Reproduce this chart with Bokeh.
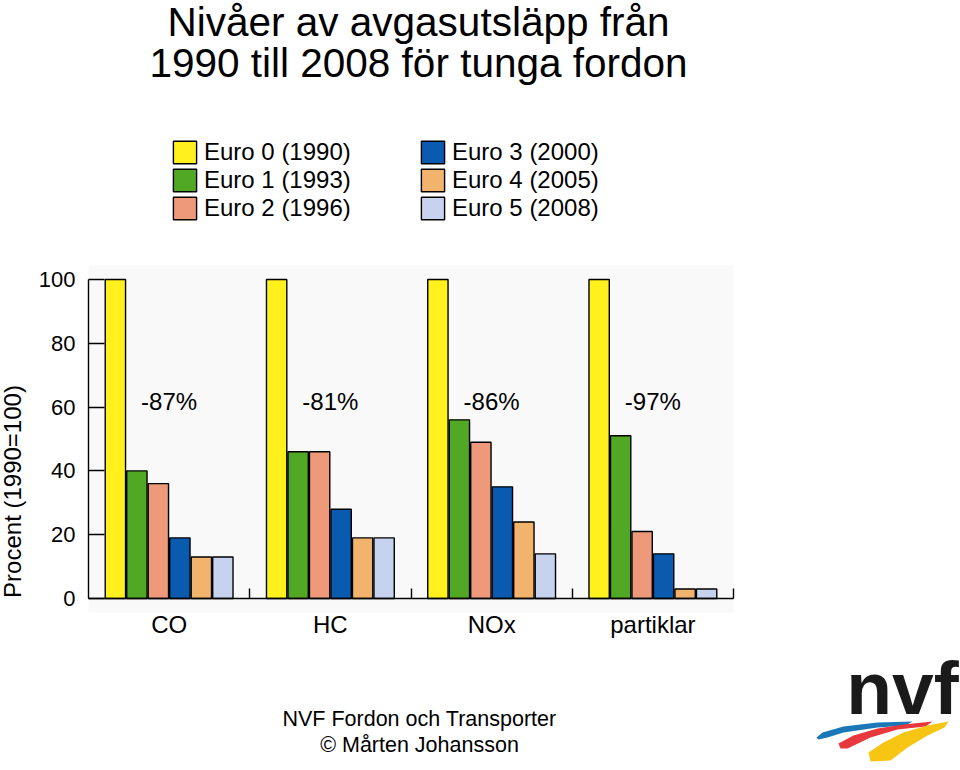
import math
from bokeh.plotting import figure
from bokeh.models import (ColumnDataSource, Range1d, FixedTicker, Label, Legend,
                          LegendItem, PolyAnnotation, BoxAnnotation)
from bokeh.core.properties import value
from bokeh.transform import dodge
from bokeh.embed import file_html
from bokeh.resources import INLINE

# ---------------- data ----------------
categories = ["CO", "HC", "NOx", "partiklar"]
euro0 = [100, 100, 100, 100]
euro1 = [40, 46, 56, 51]
euro2 = [36, 46, 49, 21]
euro3 = [19, 28, 35, 14]
euro4 = [13, 19, 24, 3]
euro5 = [13, 19, 14, 3]
series_names = ["Euro 0 (1990)", "Euro 1 (1993)", "Euro 2 (1996)",
                "Euro 3 (2000)", "Euro 4 (2005)", "Euro 5 (2008)"]
reductions = ["-87%", "-81%", "-86%", "-97%"]
y_ticks = [0, 20, 40, 60, 80, 100]

title_lines = ["Nivåer av avgasutsläpp från", "1990 till 2008 för tunga fordon"]
footer_lines = ["NVF Fordon och Transporter", "© Mårten Johansson"]
y_label = "Procent (1990=100)"

colors = ["#FFF01E", "#50A824", "#EE9A7A", "#0A5BB0", "#F2B36C", "#C6D2EE"]
FONT = "Liberation Sans"

# ---------------- geometry (canvas == frame) ----------------
W, H = 960, 770
X0, XPX = 88, 161.25      # pixel of x=0, pixels per group
Y0, YPX = 598, 3.19       # pixel of y=0, pixels per percent

x_range = Range1d(-X0 / XPX, (W - X0) / XPX)
y_range = Range1d(-(H - Y0) / YPX, Y0 / YPX)

p = figure(width=W, height=H, output_backend="svg", toolbar_location=None,
           x_range=x_range, y_range=y_range,
           min_border_left=0, min_border_right=0, min_border_top=0,
           min_border_bottom=0, outline_line_color=None,
           background_fill_color="white", border_fill_color="white")
p.grid.visible = False

n = len(categories)
# light plot-area background
p.add_layout(BoxAnnotation(left=0, right=n, bottom=-14 / YPX, top=(Y0 - 265) / YPX,
                           fill_color="#f9f9f9", fill_alpha=1, line_color=None,
                           level="underlay"))

centers = [i + 0.5 for i in range(n)]
src = ColumnDataSource(dict(x=centers, cat=categories, e0=euro0, e1=euro1, e2=euro2,
                            e3=euro3, e4=euro4, e5=euro5))
series_cols = ["e0", "e1", "e2", "e3", "e4", "e5"]
step = 0.1333
renderers = []
for k, col in enumerate(series_cols):
    off = (k - 2.5) * step
    r = p.vbar(x=dodge("x", off, range=p.x_range), top=col, width=0.126, source=src,
               fill_color=colors[k], line_color="black", line_width=1.4)
    renderers.append(r)

# reduction labels
rsrc = ColumnDataSource(dict(x=centers, y=[61.8] * n, t=reductions))
p.text(x="x", y="y", text="t", source=rsrc, text_align="center",
       text_baseline="middle", text_font=value(FONT), text_font_size="24px",
       text_color="black")

# axes, drawn at fixed data locations
xa = p.xaxis[0]
xa.fixed_location = 0
xa.bounds = (0, n)
xa.ticker = FixedTicker(ticks=centers, minor_ticks=[i + 1 for i in range(n)])
xa.major_label_overrides = {c: nm for c, nm in zip(centers, categories)}
xa.major_tick_in = 0
xa.major_tick_out = 0
xa.minor_tick_in = 10
xa.minor_tick_out = 0
xa.minor_tick_line_color = "black"
xa.minor_tick_line_width = 1.4
xa.axis_line_width = 1.4
xa.axis_line_color = "black"
xa.major_label_text_font = FONT
xa.major_label_text_font_size = "24px"
xa.major_label_text_color = "black"
xa.major_label_standoff = 12

ya = p.yaxis[0]
ya.fixed_location = 0
ya.ticker = FixedTicker(ticks=y_ticks)
ya.bounds = (0, 100)
ya.major_tick_in = 16
ya.major_tick_out = 0
ya.minor_tick_line_color = None
ya.major_tick_line_width = 1.4
ya.axis_line_width = 1.4
ya.axis_line_color = "black"
ya.major_tick_line_color = "black"
ya.major_label_text_font = FONT
ya.major_label_text_font_size = "22px"
ya.major_label_text_color = "black"
ya.major_label_standoff = 13


def sxy(X, Y):
    # image pixel -> screen units (origin bottom-left of canvas)
    return X, H - Y


# legends
for idx, (xs, ys) in enumerate([(170, 222), (418, 222)]):
    items = [LegendItem(label=series_names[3 * idx + j], renderers=[renderers[3 * idx + j]])
             for j in range(3)]
    lx, ly = sxy(xs, ys)
    leg = Legend(items=items, location=(lx, ly), orientation="vertical",
                 glyph_width=29, glyph_height=28, label_height=28, spacing=0,
                 padding=0, margin=0, label_standoff=5,
                 label_text_font=FONT, label_text_font_size="24px",
                 label_text_color="black", label_text_baseline="middle",
                 background_fill_alpha=0, border_line_color=None)
    p.add_layout(leg, "center")

# title
for line, by in zip(title_lines, [21, 62]):
    lx, ly = sxy(418, by)
    p.add_layout(Label(x=lx, y=ly, x_units="screen", y_units="screen", text=line,
                       text_align="center", text_baseline="alphabetic",
                       text_font=FONT, text_font_size="40.5px", text_color="black"))

# footer
for line, by in zip(footer_lines, [718, 744]):
    lx, ly = sxy(419, by)
    p.add_layout(Label(x=lx, y=ly, x_units="screen", y_units="screen", text=line,
                       text_align="center", text_baseline="alphabetic",
                       text_font=FONT, text_font_size="21.5px", text_color="black"))

# y axis label
lx, ly = sxy(12, 491)
p.add_layout(Label(x=lx, y=ly, x_units="screen", y_units="screen", text=y_label,
                   angle=math.pi / 2, text_align="center", text_baseline="middle",
                   text_font=FONT, text_font_size="24px", text_color="black"))

# logo
lx, ly = sxy(902, 687)
p.add_layout(Label(x=lx, y=ly, x_units="screen", y_units="screen", text="nvf",
                   text_align="center", text_baseline="alphabetic",
                   text_font=FONT, text_font_style="bold", text_font_size="75px",
                   text_color="#1a1a1a"))

bands = [
    ("#1B78B8", [(816, 737), (822, 732), (843, 726), (877, 722), (912, 721),
                 (905, 725), (877, 727), (843, 732), (827, 737), (818, 739)]),
    ("#E8383D", [(838, 743), (853, 735), (877, 728), (903, 724), (932, 721),
                 (925, 726), (897, 729), (870, 737), (847, 748), (840, 748)]),
    ("#F7C514", [(868, 752), (883, 742), (903, 732), (927, 725), (948, 721),
                 (944, 727), (927, 735), (907, 747), (890, 760), (870, 761)]),
]
for col, pts in bands:
    xs = [sxy(a, b)[0] for a, b in pts]
    ys = [sxy(a, b)[1] for a, b in pts]
    p.add_layout(PolyAnnotation(xs=xs, ys=ys, xs_units="screen", ys_units="screen",
                                fill_color=col, fill_alpha=1, line_color=None))

open("out.html", "w").write(file_html(p, INLINE))
